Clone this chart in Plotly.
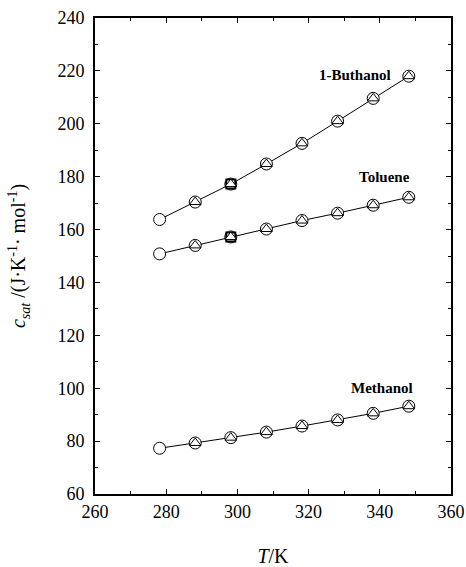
import plotly.graph_objects as go

T = [278.15, 288.15, 298.15, 308.15, 318.15, 328.15, 338.15, 348.15]
butanol = [163.8, 170.4, 177.2, 184.8, 192.6, 201.0, 209.6, 218.0]
toluene = [150.8, 154.0, 157.2, 160.2, 163.4, 166.2, 169.2, 172.2]
methanol = [77.3, 79.3, 81.3, 83.4, 85.7, 88.0, 90.5, 93.2]

T_tri = T[1:]
butanol_tri = butanol[1:]
toluene_tri = toluene[1:]
methanol_tri = methanol[1:]

T_sq = [298.15]
butanol_sq = [177.2]
toluene_sq = [157.2]

labels = ["1-Buthanol", "Toluene", "Methanol"]
label_x = [333.0, 341.2, 340.6]
label_y = [218.5, 179.9, 100.1]

FONT = "Times New Roman, Liberation Serif, serif"

fig = go.Figure()
for ys in [butanol, toluene, methanol]:
    fig.add_trace(go.Scatter(x=T, y=ys, mode="lines",
                             line=dict(color="black", width=1), showlegend=False))
for ys in [butanol, toluene, methanol]:
    fig.add_trace(go.Scatter(x=T, y=ys, mode="markers",
                             marker=dict(symbol="circle", size=12, color="white",
                                         line=dict(color="black", width=1)),
                             showlegend=False))
for ys in [butanol_sq, toluene_sq]:
    fig.add_trace(go.Scatter(x=T_sq, y=ys, mode="markers",
                             marker=dict(symbol="square", size=9, color="white",
                                         line=dict(color="black", width=2)),
                             showlegend=False))
for ys in [butanol_tri, toluene_tri, methanol_tri]:
    fig.add_trace(go.Scatter(x=T_tri, y=ys, mode="markers",
                             marker=dict(symbol="triangle-up", size=10, color="white",
                                         line=dict(color="black", width=1)),
                             showlegend=False))

for lab, lx, ly in zip(labels, label_x, label_y):
    fig.add_annotation(x=lx, y=ly, text="<b>" + lab + "</b>", showarrow=False,
                       xanchor="center", yanchor="middle",
                       font=dict(family=FONT, size=15, color="black"))

axis_common = dict(showgrid=False, zeroline=False, showline=True, linecolor="black",
                   linewidth=2, mirror="allticks", ticks="inside", ticklen=5,
                   tickwidth=1, tickcolor="black", automargin=False,
                   tickfont=dict(family=FONT, size=18, color="black"))

fig.update_xaxes(range=[260, 360], dtick=20, tick0=260, ticklabelstandoff=0,
                 minor=dict(dtick=10, ticks="inside", ticklen=3, tickcolor="black", tickwidth=1),
                 title=dict(text="<i>T</i>/K", standoff=32,
                            font=dict(family=FONT, size=20, color="black")),
                 **axis_common)
fig.update_yaxes(range=[60, 240], dtick=20, tick0=60, ticklabelstandoff=5,
                 minor=dict(dtick=10, ticks="inside", ticklen=3, tickcolor="black", tickwidth=1),
                 title=dict(text="<i>c<sub>sat</sub></i> /(J·K<sup>-1</sup>· mol<sup>-1</sup>)",
                            standoff=26,
                            font=dict(family=FONT, size=20, color="black")),
                 **axis_common)

fig.update_layout(template="none", width=466, height=567,
                  margin=dict(l=95, r=15, t=18, b=73, autoexpand=False),
                  paper_bgcolor="white", plot_bgcolor="white", showlegend=False)

fig.write_html("out.html")
